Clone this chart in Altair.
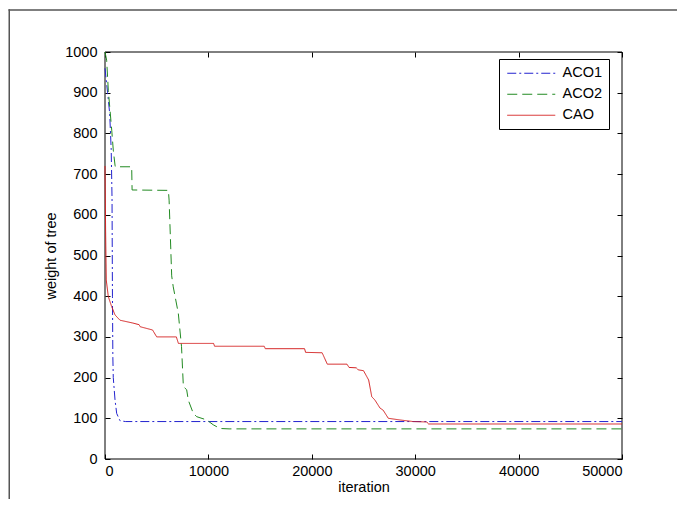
import altair as alt
import pandas as pd

# ---- data ----
series_names = ["ACO1", "ACO2", "CAO"]

aco1_iter = [0, 250, 450, 600, 680, 720, 760, 800, 970, 1130, 1450, 2000, 50000]
aco1_weight = [960, 900, 850, 760, 640, 400, 250, 200, 145, 112, 94, 92, 92]

aco2_iter = [0, 160, 320, 650, 800, 970, 1000, 2580, 2620, 6130, 6200, 6450, 6600,
             7090, 7400, 7580, 7900, 8050, 8540, 8870, 9830, 10470, 11120, 12000, 50000]
aco2_weight = [1000, 980, 906, 808, 759, 722, 718, 718, 661, 660, 636, 450, 423,
               358, 276, 178, 170, 145, 112, 104, 96, 84, 75, 74, 74]

cao_iter = [0, 60, 120, 320, 650, 970, 1450, 2700, 3300, 3400, 4600, 5000, 6900, 7100,
            10500, 10600, 15400, 15500, 19300, 19400, 21000, 21500, 23400, 23600, 24300,
            24500, 25000, 25500, 25800, 26100, 26600, 26900, 27400, 28500, 29800, 31100,
            31300, 50000]
cao_weight = [720, 560, 440, 399, 374, 354, 341, 334, 330, 325, 317, 300, 300, 284,
              284, 277, 277, 271, 271, 262, 261, 233, 233, 225, 224,
              219, 217, 194, 153, 145, 125, 120, 100, 96, 92, 91,
              86, 86]

x_ticks = [0, 10000, 20000, 30000, 40000, 50000]
y_ticks = [0, 100, 200, 300, 400, 500, 600, 700, 800, 900, 1000]

colors = ["#2323cf", "#228a22", "#d42222"]
dashes = [[9, 3, 2, 3], [10, 5], [1, 0]]

rows = []
for name, xs, ys in [("ACO1", aco1_iter, aco1_weight),
                     ("ACO2", aco2_iter, aco2_weight),
                     ("CAO", cao_iter, cao_weight)]:
    for i, (x, y) in enumerate(zip(xs, ys)):
        rows.append({"series": name, "iteration": x, "weight": y, "order": i})
df = pd.DataFrame(rows)

W, H = 517, 407
PAD = {"left": 97, "top": 44, "right": 55, "bottom": 40}
FONT = "Liberation Sans"
FS = 14.5

xscale = alt.Scale(domain=[0, 50000], nice=False, zero=False)
yscale = alt.Scale(domain=[0, 1000], nice=False, zero=False)

legend = alt.Legend(
    title=None, orient="none", legendX=394, legendY=7,
    strokeColor="black", fillColor="white", padding=7, cornerRadius=0,
    symbolType="M-4,0H4", symbolSize=144, symbolStrokeWidth=1, symbolOffset=18,
    labelFont=FONT, labelFontSize=FS, labelColor="black", labelOffset=24,
    rowPadding=6,
)

one = pd.DataFrame({"k": [0]})

# plot box drawn beneath the curves
box = alt.Chart(one).mark_rect(fill=None, stroke="black", strokeWidth=1).encode(
    x=alt.value(0), x2=alt.value(W), y=alt.value(0), y2=alt.value(H)
)

lines = alt.Chart(df).mark_line(strokeWidth=1, clip=False).encode(
    x=alt.X("iteration:Q", scale=xscale,
            axis=alt.Axis(title="iteration", values=x_ticks, format="d", offset=-5,
                          tickSize=5, domain=False, grid=False, labelPadding=5,
                          titlePadding=3, orient="bottom")),
    y=alt.Y("weight:Q", scale=yscale,
            axis=alt.Axis(title="weight of tree", values=y_ticks, format="d", offset=-5,
                          tickSize=5, domain=False, grid=False, labelPadding=8,
                          titlePadding=6, orient="left")),
    color=alt.Color("series:N", scale=alt.Scale(domain=series_names, range=colors),
                    legend=legend),
    strokeDash=alt.StrokeDash("series:N", scale=alt.Scale(domain=series_names, range=dashes),
                              legend=legend),
    order="order:Q",
)

mirror = alt.Chart(df).mark_point(opacity=0).encode(
    x=alt.X("iteration:Q", scale=xscale,
            axis=alt.Axis(title=None, values=x_ticks, labels=False, offset=-5, tickSize=5,
                          domain=False, grid=False, orient="top")),
    y=alt.Y("weight:Q", scale=yscale,
            axis=alt.Axis(title=None, values=y_ticks, labels=False, offset=-5, tickSize=5,
                          domain=False, grid=False, orient="right")),
)

# outer figure frame: only its top and left edges fall inside the window,
# drawn as thin filled strips that stay inside the svg
right_edge = W + PAD["right"]
bottom_edge = H + PAD["bottom"]
frame_top = alt.Chart(one).mark_rect(fill="#555555", strokeWidth=0, clip=False).encode(
    x=alt.value(-96.5), x2=alt.value(right_edge), y=alt.value(-42.75), y2=alt.value(-41.25)
)
frame_left = alt.Chart(one).mark_rect(fill="#555555", strokeWidth=0, clip=False).encode(
    x=alt.value(-96.5), x2=alt.value(-95), y=alt.value(-42.75), y2=alt.value(bottom_edge)
)

chart = alt.layer(frame_top, frame_left, box, lines, mirror).resolve_axis(
    x="independent", y="independent"
).properties(
    width=W, height=H,
    autosize=alt.AutoSizeParams(type="none"),
    padding=PAD,
    background="white",
).configure_view(
    stroke=None
).configure_axis(
    labelFont=FONT, labelFontSize=FS, labelColor="black",
    titleFont=FONT, titleFontSize=FS, titleFontWeight="normal", titleColor="black",
    tickColor="black", tickWidth=1,
)

chart.save("out.html", embed_options={"renderer": "svg", "actions": False})
